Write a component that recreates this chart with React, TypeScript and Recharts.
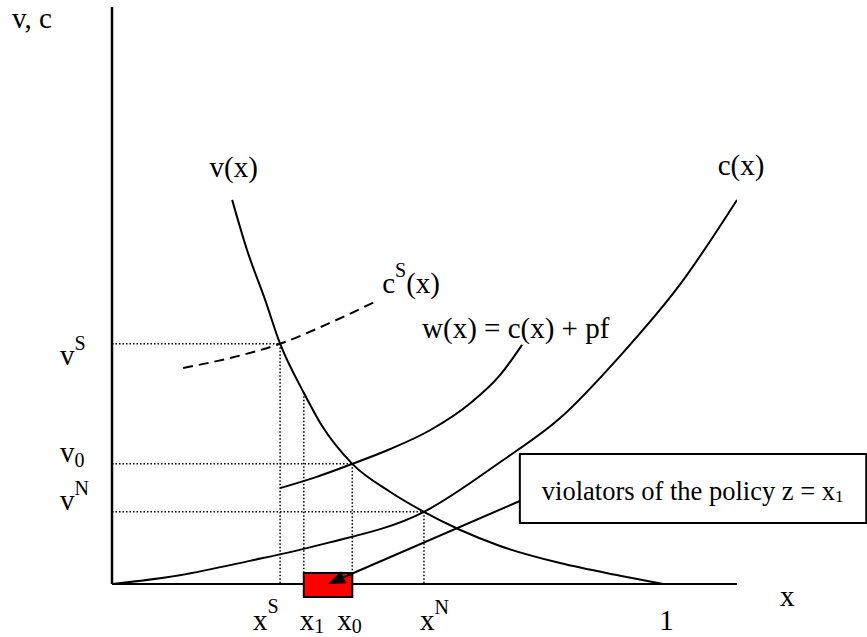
import React from 'react';
import {
  ComposedChart,
  Line,
  XAxis,
  YAxis,
  ReferenceLine,
  ReferenceArea,
  ReferenceDot,
} from 'recharts';

const FONT = "'Liberation Serif', 'Times New Roman', Times, serif";

// Axis extents (x: share of firms, 1 = all; y: value / cost, same unit)
const X_MAX = 1.134;
const Y_MAX = 1.047;

// v(x): value of the marginal firm
const V_CURVE = [
  { x: 0.218, y: 0.697 },
  { x: 0.245, y: 0.606 },
  { x: 0.278, y: 0.515 },
  { x: 0.305, y: 0.436 },
  { x: 0.348, y: 0.347 },
  { x: 0.381, y: 0.287 },
  { x: 0.436, y: 0.218 },
  { x: 0.505, y: 0.167 },
  { x: 0.566, y: 0.131 },
  { x: 0.632, y: 0.098 },
  { x: 0.704, y: 0.069 },
  { x: 0.813, y: 0.038 },
  { x: 0.922, y: 0.015 },
  { x: 1.0, y: 0 },
];

// c(x): private cost
const C_CURVE = [
  { x: 0, y: 0 },
  { x: 0.123, y: 0.016 },
  { x: 0.25, y: 0.042 },
  { x: 0.377, y: 0.071 },
  { x: 0.566, y: 0.131 },
  { x: 0.704, y: 0.221 },
  { x: 0.813, y: 0.301 },
  { x: 0.922, y: 0.414 },
  { x: 1.031, y: 0.544 },
  { x: 1.134, y: 0.697 },
];

// w(x) = c(x) + pf: cost including the expected penalty
const W_CURVE = [
  { x: 0.305, y: 0.174 },
  { x: 0.37, y: 0.194 },
  { x: 0.436, y: 0.218 },
  { x: 0.505, y: 0.245 },
  { x: 0.577, y: 0.279 },
  { x: 0.65, y: 0.328 },
  { x: 0.704, y: 0.379 },
  { x: 0.744, y: 0.434 },
];

// c^S(x): social cost (dashed)
const CS_CURVE = [
  { x: 0.129, y: 0.392 },
  { x: 0.214, y: 0.41 },
  { x: 0.305, y: 0.436 },
  { x: 0.396, y: 0.474 },
  { x: 0.483, y: 0.515 },
];

// Equilibrium points
const X_S = 0.305;
const X_1 = 0.348;
const X_0 = 0.436;
const X_N = 0.566;
const X_ONE = 1;
const V_S = 0.436;
const V_0 = 0.218;
const V_N = 0.131;
const V_AT_X1 = 0.347;

const X_TICKS = [X_S, X_1, X_0, X_N, X_ONE];
const X_TICK_LABELS = [
  { base: 'x', sup: 'S' },
  { base: 'x', sub: '1' },
  { base: 'x', sub: '0' },
  { base: 'x', sup: 'N' },
  { base: '1' },
];
const Y_TICKS = [V_N, V_0, V_S];
const Y_TICK_LABELS = [
  { base: 'v', sup: 'N' },
  { base: 'v', sub: '0' },
  { base: 'v', sup: 'S' },
];

// Band of violating firms and its callout
const VIOLATOR_BAND = { from: X_1, to: X_0, low: -0.0236, high: 0.02 };
const NOTE_BOX = { x1: 0.74, x2: 1.3685, y1: 0.1107, y2: 0.2359 };
const NOTE_ARROW = [
  { x: 0.74, y: 0.1506 },
  { x: 0.392, y: 0 },
];

type ScriptProps = {
  x: number;
  y: number;
  base: string;
  sup?: string;
  sub?: string;
  after?: string;
  size?: number;
  small?: number;
  supDy?: number;
  subDy?: number;
  anchor?: 'start' | 'middle' | 'end';
};

function ScriptText({
  x,
  y,
  base,
  sup,
  sub,
  after,
  size = 29,
  small = 20,
  supDy = -15,
  subDy = 4,
  anchor = 'start',
}: ScriptProps) {
  return (
    <text x={x} y={y} fontFamily={FONT} fontSize={size} fill="#000" textAnchor={anchor}>
      <tspan>{base}</tspan>
      {sup ? (
        <tspan fontSize={small} dy={supDy}>
          {sup}
        </tspan>
      ) : null}
      {sub ? (
        <tspan fontSize={small} dy={subDy}>
          {sub}
        </tspan>
      ) : null}
      {after ? <tspan dy={sup ? -supDy : sub ? -subDy : 0}>{after}</tspan> : null}
    </text>
  );
}

const X_TICK_DX = [-27, -4, -15, -4, -4];
const X_TICK_SUP_DY = [-17, 0, 0, -16, 0];

function renderXTick(props: any) {
  const { x, y, payload } = props;
  const i = X_TICKS.indexOf(payload.value);
  if (i < 0) return <g />;
  const lab = X_TICK_LABELS[i];
  return (
    <ScriptText
      x={x + X_TICK_DX[i]}
      y={y + 46}
      base={lab.base}
      sup={lab.sup}
      sub={lab.sub}
      supDy={X_TICK_SUP_DY[i]}
      subDy={3}
    />
  );
}

const Y_TICK_DY = [-2, -2, 21];

function renderYTick(props: any) {
  const { x, y, payload } = props;
  const i = Y_TICKS.indexOf(payload.value);
  if (i < 0) return <g />;
  const lab = Y_TICK_LABELS[i];
  return (
    <ScriptText
      x={x - 52}
      y={y + Y_TICK_DY[i]}
      base={lab.base}
      sup={lab.sup}
      sub={lab.sub}
      supDy={-15}
      subDy={5}
    />
  );
}

function renderXTitle(props: any) {
  const vb = props.viewBox || {};
  return <ScriptText x={vb.x + vb.width + 43} y={vb.y + 22} base="x" />;
}

function renderYTitle(props: any) {
  const vb = props.viewBox || {};
  return <ScriptText x={vb.x + 12} y={vb.y + 21} base="v, c" />;
}

// Filled band drawn between the two corners of a segment
function renderBand(props: any) {
  const { x1, y1, x2, y2 } = props;
  return (
    <rect
      x={Math.min(x1, x2)}
      y={Math.min(y1, y2)}
      width={Math.abs(x2 - x1)}
      height={Math.abs(y2 - y1)}
      fill="#ff0000"
      stroke="#000"
      strokeWidth={2}
    />
  );
}

function renderArrow(props: any) {
  const { x1, y1, x2, y2 } = props;
  const dx = x1 - x2;
  const dy = y1 - y2;
  const len = Math.sqrt(dx * dx + dy * dy) || 1;
  const ux = dx / len;
  const uy = dy / len;
  const headLen = 17;
  const half = 6.5;
  const bx = x2 + ux * headLen;
  const by = y2 + uy * headLen;
  const pts = `${x2},${y2} ${bx - uy * half},${by + ux * half} ${bx + uy * half},${by - ux * half}`;
  return (
    <g>
      <line x1={x1} y1={y1} x2={bx} y2={by} stroke="#000" strokeWidth={2} />
      <polygon points={pts} fill="#000" />
    </g>
  );
}

function renderNoteText(props: any) {
  const vb = props.viewBox || {};
  return (
    <ScriptText
      x={vb.x + 22}
      y={vb.y + 46}
      base="violators of the policy z = x"
      sub="1"
      size={26.5}
      small={17}
      subDy={2}
    />
  );
}

const DOT = { stroke: '#000', strokeWidth: 1.5, strokeDasharray: '1.5 2' };

const vStart = V_CURVE[0];
const cEnd = C_CURVE[C_CURVE.length - 1];
const csEnd = CS_CURVE[CS_CURVE.length - 1];
const wEnd = W_CURVE[W_CURVE.length - 1];

export default function App() {
  return (
    <div style={{ position: 'absolute', left: 0, top: 0, width: 867, height: 637, background: '#fff' }}>
      <ComposedChart width={867} height={637} margin={{ top: 7, right: 130, bottom: 0, left: 0 }}>
        <XAxis
          type="number"
          dataKey="x"
          domain={[0, X_MAX]}
          allowDataOverflow
          ticks={X_TICKS}
          interval={0}
          tick={renderXTick}
          tickLine={false}
          tickSize={0}
          tickMargin={0}
          axisLine={false}
          height={53}
          label={renderXTitle}
        />
        <YAxis
          type="number"
          dataKey="y"
          domain={[0, Y_MAX]}
          allowDataOverflow
          ticks={Y_TICKS}
          interval={0}
          tick={renderYTick}
          tickLine={false}
          tickSize={0}
          tickMargin={0}
          axisLine={{ stroke: '#000', strokeWidth: 2.5 }}
          width={112}
          label={renderYTitle}
        />

        <ReferenceLine segment={[{ x: 0, y: V_S }, { x: X_S, y: V_S }]} {...DOT} ifOverflow="visible" />
        <ReferenceLine segment={[{ x: X_S, y: V_S }, { x: X_S, y: 0 }]} {...DOT} ifOverflow="visible" />
        <ReferenceLine segment={[{ x: 0, y: V_0 }, { x: X_0, y: V_0 }]} {...DOT} ifOverflow="visible" />
        <ReferenceLine segment={[{ x: X_0, y: V_0 }, { x: X_0, y: 0 }]} {...DOT} ifOverflow="visible" />
        <ReferenceLine segment={[{ x: 0, y: V_N }, { x: X_N, y: V_N }]} {...DOT} ifOverflow="visible" />
        <ReferenceLine segment={[{ x: X_N, y: V_N }, { x: X_N, y: 0 }]} {...DOT} ifOverflow="visible" />
        <ReferenceLine segment={[{ x: X_1, y: V_AT_X1 }, { x: X_1, y: 0 }]} {...DOT} ifOverflow="visible" />

        <Line data={V_CURVE} dataKey="y" type="monotone" stroke="#000" strokeWidth={2} dot={false} activeDot={false} isAnimationActive={false} />
        <Line data={C_CURVE} dataKey="y" type="monotone" stroke="#000" strokeWidth={2} dot={false} activeDot={false} isAnimationActive={false} />
        <Line data={W_CURVE} dataKey="y" type="monotone" stroke="#000" strokeWidth={2} dot={false} activeDot={false} isAnimationActive={false} />
        <Line data={CS_CURVE} dataKey="y" type="monotone" stroke="#000" strokeWidth={2} strokeDasharray="10 6" dot={false} activeDot={false} isAnimationActive={false} />

        <ReferenceArea
          x1={NOTE_BOX.x1}
          x2={NOTE_BOX.x2}
          y1={NOTE_BOX.y1}
          y2={NOTE_BOX.y2}
          fill="#ffffff"
          fillOpacity={1}
          stroke="#000"
          strokeWidth={2}
          ifOverflow="visible"
          label={renderNoteText}
        />

        {/* horizontal axis line, drawn in the same layer as the band so the band covers it */}
        <ReferenceLine segment={[{ x: 0, y: 0 }, { x: X_MAX, y: 0 }]} stroke="#000" strokeWidth={2} ifOverflow="visible" />
        <ReferenceLine
          segment={[
            { x: VIOLATOR_BAND.from, y: VIOLATOR_BAND.low },
            { x: VIOLATOR_BAND.to, y: VIOLATOR_BAND.high },
          ]}
          ifOverflow="visible"
          shape={renderBand}
        />
        <ReferenceLine segment={NOTE_ARROW} ifOverflow="visible" shape={renderArrow} />

        <ReferenceDot
          x={vStart.x}
          y={vStart.y}
          r={0}
          ifOverflow="visible"
          shape={(p: any) => <ScriptText x={p.cx + 1.5} y={p.cy - 23} base="v(x)" anchor="middle" />}
        />
        <ReferenceDot
          x={cEnd.x}
          y={cEnd.y}
          r={0}
          ifOverflow="visible"
          shape={(p: any) => <ScriptText x={p.cx + 4} y={p.cy - 25} base="c(x)" anchor="middle" />}
        />
        <ReferenceDot
          x={csEnd.x}
          y={csEnd.y}
          r={0}
          ifOverflow="visible"
          shape={(p: any) => <ScriptText x={p.cx + 4} y={p.cy - 7} base="c" sup="S" after="(x)" supDy={-16} />}
        />
        <ReferenceDot
          x={wEnd.x}
          y={wEnd.y}
          r={0}
          ifOverflow="visible"
          shape={(p: any) => <ScriptText x={p.cx - 100} y={p.cy - 7} base="w(x) = c(x) + pf" />}
        />
      </ComposedChart>
    </div>
  );
}
